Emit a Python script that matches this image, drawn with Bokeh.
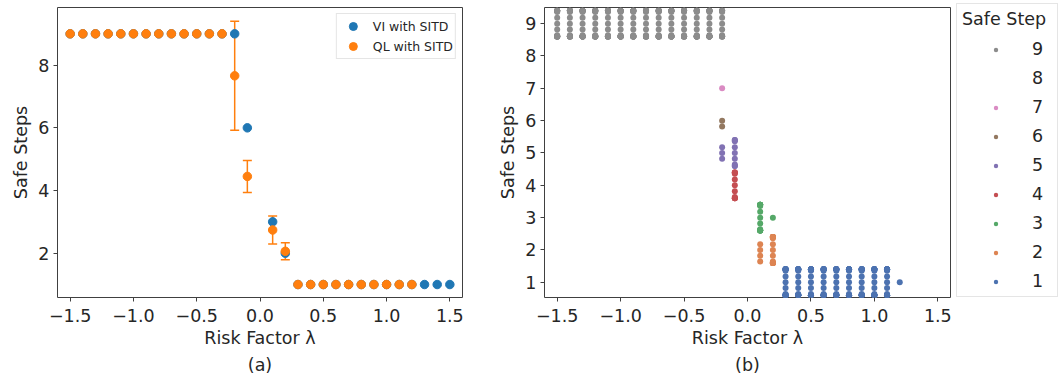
from bokeh.plotting import figure
from bokeh.layouts import row
from bokeh.models import (ColumnDataSource, Whisker, TeeHead, Legend, LegendItem,
                          FixedTicker, Title, CustomJSTickFormatter)
from bokeh.embed import file_html
from bokeh.resources import INLINE

# ---------------- data : panel (a) ----------------
vi_lambda = [-1.5, -1.4, -1.3, -1.2, -1.1, -1.0, -0.9, -0.8, -0.7, -0.6, -0.5, -0.4, -0.3, -0.2,
             -0.1, 0.1, 0.2, 0.3, 0.4, 0.5, 0.6, 0.7, 0.8, 0.9, 1.0, 1.1, 1.2, 1.3, 1.4, 1.5]
vi_steps = [9, 9, 9, 9, 9, 9, 9, 9, 9, 9, 9, 9, 9, 9,
            6, 3, 2, 1, 1, 1, 1, 1, 1, 1, 1, 1, 1, 1, 1, 1]

ql_lambda = [-1.5, -1.4, -1.3, -1.2, -1.1, -1.0, -0.9, -0.8, -0.7, -0.6, -0.5, -0.4, -0.3, -0.2,
             -0.1, 0.1, 0.2, 0.3, 0.4, 0.5, 0.6, 0.7, 0.8, 0.9, 1.0, 1.1, 1.2]
ql_steps = [9, 9, 9, 9, 9, 9, 9, 9, 9, 9, 9, 9, 9, 7.66,
            4.45, 2.74, 2.06, 1, 1, 1, 1, 1, 1, 1, 1, 1, 1]
ql_err = [0, 0, 0, 0, 0, 0, 0, 0, 0, 0, 0, 0, 0, 1.74,
          0.51, 0.45, 0.27, 0, 0, 0, 0, 0, 0, 0, 0, 0, 0]

# ---------------- data : panel (b) ----------------
# runs per (risk factor, safe step) pair
run_lambda = [-1.5, -1.4, -1.3, -1.2, -1.1, -1.0, -0.9, -0.8, -0.7, -0.6, -0.5, -0.4, -0.3, -0.2,
              -0.2, -0.2, -0.2, -0.1, -0.1, 0.1, 0.1, 0.2, 0.2,
              0.3, 0.4, 0.5, 0.6, 0.7, 0.8, 0.9, 1.0, 1.1, 1.2]
run_step = [9, 9, 9, 9, 9, 9, 9, 9, 9, 9, 9, 9, 9, 9,
            7, 6, 5, 5, 4, 3, 2, 3, 2,
            1, 1, 1, 1, 1, 1, 1, 1, 1, 1]
run_count = [20, 20, 20, 20, 20, 20, 20, 20, 20, 20, 20, 20, 20, 14,
             1, 2, 3, 9, 11, 16, 4, 1, 19,
             20, 20, 20, 20, 20, 20, 20, 20, 20, 1]

legend_steps = [9, 8, 7, 6, 5, 4, 3, 2, 1]
step_colors = {1: "#4c72b0", 2: "#dd8452", 3: "#55a868", 4: "#c44e52", 5: "#8172b3",
               6: "#937860", 7: "#da8bc3", 8: "#ccb974", 9: "#8c8c8c"}

x_ticks = [-1.5, -1.0, -0.5, 0.0, 0.5, 1.0, 1.5]
y_ticks_a = [2, 4, 6, 8]
y_ticks_b = [1, 2, 3, 4, 5, 6, 7, 8, 9]

BLUE = "#1f77b4"
ORANGE = "#ff7f0e"
TEXT = "#262626"
FONT = "DejaVu Sans"
FS = "17.5px"

minus_fmt = CustomJSTickFormatter(code="return tick.toFixed(1).replace('-', '\\u2212');")


def style(p, yticks):
    p.outline_line_color = "#404040"
    p.outline_line_width = 1
    p.xgrid.visible = False
    p.ygrid.visible = False
    p.xaxis.ticker = FixedTicker(ticks=x_ticks)
    p.xaxis.formatter = minus_fmt
    p.yaxis.ticker = FixedTicker(ticks=yticks)
    for ax in (p.xaxis[0], p.yaxis[0]):
        ax.axis_line_color = None
        ax.major_tick_line_color = "#404040"
        ax.major_tick_out = 4
        ax.major_tick_in = 0
        ax.minor_tick_line_color = None
        ax.major_label_text_font = FONT
        ax.major_label_text_font_size = FS
        ax.major_label_text_color = TEXT
        ax.axis_label_text_font = FONT
        ax.axis_label_text_font_size = FS
        ax.axis_label_text_font_style = "normal"
        ax.axis_label_text_color = TEXT
    p.xaxis.major_label_standoff = 7
    p.xaxis.axis_label_standoff = 3
    p.yaxis.major_label_standoff = 4
    p.yaxis.axis_label_standoff = 4


# ---------------- panel (a) ----------------
p1 = figure(frame_width=405, frame_height=290, x_range=(-1.6, 1.6), y_range=(0.586, 9.84),
            output_backend="svg", toolbar_location=None,
            min_border_left=57, min_border_right=18, min_border_top=7, min_border_bottom=5)
style(p1, y_ticks_a)
p1.xaxis.axis_label = "Risk Factor λ"
p1.yaxis.axis_label = "Safe Steps"

vi_src = ColumnDataSource(dict(x=vi_lambda, y=vi_steps))
ql_src = ColumnDataSource(dict(x=ql_lambda, y=ql_steps))
ql_bar_src = ColumnDataSource(dict(
    x=[x for x, e in zip(ql_lambda, ql_err) if e > 0],
    lo=[v - e for v, e in zip(ql_steps, ql_err) if e > 0],
    hi=[v + e for v, e in zip(ql_steps, ql_err) if e > 0]))

wh = Whisker(source=ql_bar_src, base="x", lower="lo", upper="hi", dimension="height",
             line_color=ORANGE, line_width=1.5,
             upper_head=TeeHead(size=9, line_color=ORANGE, line_width=1.5),
             lower_head=TeeHead(size=9, line_color=ORANGE, line_width=1.5))
p1.add_layout(wh)
r_vi = p1.scatter("x", "y", source=vi_src, size=8.5, fill_color=BLUE, line_color=BLUE)
r_ql = p1.scatter("x", "y", source=ql_src, size=8.5, fill_color=ORANGE, line_color=ORANGE)

leg1 = Legend(items=[LegendItem(label="VI with SITD", renderers=[r_vi]),
                     LegendItem(label="QL with SITD", renderers=[r_ql])],
              location="top_right", margin=6, padding=2, spacing=0,
              glyph_width=28, glyph_height=20, label_height=20, label_standoff=6,
              label_text_font=FONT, label_text_font_size="12.5px", label_text_color=TEXT,
              border_line_color="#cccccc", background_fill_alpha=0.8)
p1.add_layout(leg1)
p1.add_layout(Title(text="(a)", align="center", text_font=FONT, text_font_size=FS,
                    text_font_style="normal", text_color=TEXT, standoff=5), "below")

# ---------------- panel (b) ----------------
p2 = figure(frame_width=406, frame_height=290, x_range=(-1.6, 1.6), y_range=(0.53, 9.5),
            output_backend="svg", toolbar_location=None,
            min_border_left=64, min_border_right=108, min_border_top=7, min_border_bottom=5)
style(p2, y_ticks_b)
p2.xaxis.axis_label = "Risk Factor λ"
p2.yaxis.axis_label = "Safe Steps"


def swarm_offsets(n, d=0.18, lim=0.4):
    out = []
    for k in range(n):
        m = (k + 1) // 2
        sgn = -1 if k % 2 == 1 else 1
        out.append(max(-lim, min(lim, sgn * m * d)))
    return out


pts = {s: {"x": [], "y": []} for s in legend_steps}
for lam, st, n in zip(run_lambda, run_step, run_count):
    for off in swarm_offsets(n):
        pts[st]["x"].append(lam)
        pts[st]["y"].append(st + off)

items = []
for st in legend_steps:
    src = ColumnDataSource(pts[st])
    alpha = 1.0 if len(pts[st]["x"]) else 0.0
    r = p2.scatter("x", "y", source=src, size=6, fill_color=step_colors[st], line_color=None,
                   fill_alpha=alpha)
    items.append(LegendItem(label=str(st), renderers=[r]))

leg2 = Legend(items=items, title="Safe Step", location=(6, 0),
              margin=0, padding=5, spacing=9,
              glyph_width=67, glyph_height=11, label_height=20, label_standoff=3,
              title_standoff=10,
              title_text_font=FONT, title_text_font_size=FS, title_text_font_style="normal",
              title_text_color=TEXT,
              label_text_font=FONT, label_text_font_size=FS, label_text_color=TEXT,
              border_line_color="#cccccc")
p2.add_layout(leg2, "right")
p2.add_layout(Title(text="(b)", align="center", text_font=FONT, text_font_size=FS,
                    text_font_style="normal", text_color=TEXT, standoff=5), "below")

layout = row(p1, p2)
open("out.html", "w").write(file_html(layout, INLINE))
